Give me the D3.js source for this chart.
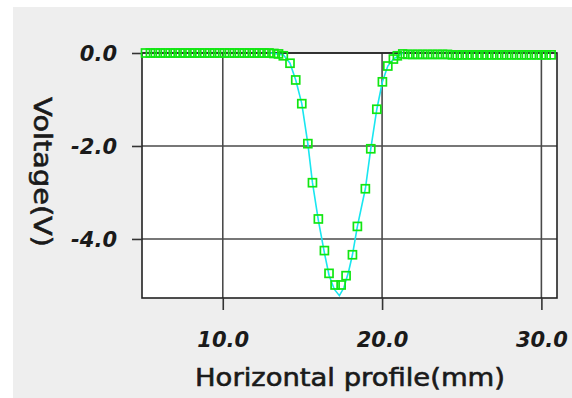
<!DOCTYPE html>
<html>
<head>
<meta charset="utf-8">
<script src="https://cdn.jsdelivr.net/npm/d3@7"></script>
<style>
  html, body { margin: 0; padding: 0; background: #ffffff; }
  svg { display: block; }
</style>
</head>
<body>
<svg id="chart" width="572" height="398"></svg>
<script>
// measured profile (mm, V)
const profileX = [
  5.15, 5.46, 5.77, 6.08, 6.39, 6.70, 7.01, 7.32, 7.63, 7.94, 8.25, 8.56, 8.87, 9.18,
  9.49, 9.80, 10.11, 10.42, 10.73, 11.04, 11.35, 11.66, 11.97, 12.28, 12.59, 12.90,
  13.21, 13.50, 13.80, 14.22, 14.58, 14.96, 15.34, 15.63, 16.00, 16.38, 16.67, 17.05,
  17.43, 17.74, 18.14, 18.45, 18.95, 19.29, 19.67, 20.02, 20.36, 20.71, 20.96, 21.30,
  21.62, 21.93, 22.24, 22.55, 22.86, 23.17, 23.48, 23.79, 24.10, 24.41, 24.72, 25.03,
  25.34, 25.65, 25.96, 26.27, 26.58, 26.89, 27.20, 27.51, 27.82, 28.13, 28.44, 28.75,
  29.06, 29.37, 29.68, 29.99, 30.30, 30.61
];
const profileV = [
  0, 0, 0, 0, 0, 0, 0, 0, 0, 0, 0, 0, 0, 0,
  0, 0, 0, 0, 0, 0, 0, 0, 0, 0, 0, 0,
  -0.01, -0.02, -0.06, -0.22, -0.58, -1.09, -1.95, -2.79, -3.57, -4.25, -4.74, -4.99,
  -4.99, -4.79, -4.34, -3.73, -2.92, -2.06, -1.21, -0.62, -0.28, -0.13, -0.06, -0.02,
  -0.03, -0.03, -0.03, -0.03, -0.03, -0.03, -0.03, -0.03, -0.03, -0.04, -0.04, -0.04,
  -0.04, -0.04, -0.04, -0.04, -0.04, -0.04, -0.04, -0.04, -0.04, -0.04, -0.04, -0.04,
  -0.04, -0.04, -0.04, -0.04, -0.04, -0.04
];
// fitted curve (cyan)
const fitX = [13.0, 13.8, 14.22, 14.58, 14.96, 15.34, 15.63, 16.0, 16.38, 16.67, 17.0, 17.32,
  17.6, 17.9, 18.14, 18.45, 18.95, 19.29, 19.67, 20.02, 20.36, 20.71, 21.3];
const fitV = [0, -0.04, -0.22, -0.58, -1.09, -1.95, -2.79, -3.6, -4.3, -4.78, -5.08, -5.22,
  -5.05, -4.7, -4.34, -3.73, -2.92, -2.06, -1.21, -0.62, -0.28, -0.13, 0];

const xTicks = [10, 20, 30];
const yTicks = [0, -2, -4];
const xTitle = "Horizontal profile(mm)";
const yTitle = "Voltage(V)";

const svg = d3.select('#chart');
const plot = { left: 142, top: 53, right: 557, bottom: 298 };

const xScale = d3.scaleLinear().domain([4.93, 30.98]).range([plot.left, plot.right]);
const yScale = d3.scaleLinear().domain([0, -5.27]).range([plot.top, plot.bottom]);

// grey panel
svg.append('rect')
  .attr('x', 13).attr('y', 7).attr('width', 572 - 13).attr('height', 398 - 7)
  .attr('fill', '#eeeeee');

// plot background
svg.append('rect')
  .attr('x', plot.left).attr('y', plot.top)
  .attr('width', plot.right - plot.left).attr('height', plot.bottom - plot.top)
  .attr('fill', '#ffffff');

const fmt = d => d.toFixed(1);

// grid lines
svg.append('g')
  .selectAll('line.vg')
  .data(xTicks)
  .join('line')
  .attr('x1', d => xScale(d)).attr('x2', d => xScale(d))
  .attr('y1', plot.top).attr('y2', plot.bottom)
  .attr('stroke', '#4a4a4a').attr('stroke-width', 1.6);

svg.append('g')
  .selectAll('line.hg')
  .data(yTicks)
  .join('line')
  .attr('x1', plot.left).attr('x2', plot.right)
  .attr('y1', d => yScale(d)).attr('y2', d => yScale(d))
  .attr('stroke', '#4a4a4a').attr('stroke-width', 1.6);

// border
svg.append('rect')
  .attr('x', plot.left).attr('y', plot.top)
  .attr('width', plot.right - plot.left).attr('height', plot.bottom - plot.top)
  .attr('fill', 'none').attr('stroke', '#222').attr('stroke-width', 1.6);

// axes
const xAxis = svg.append('g')
  .attr('transform', `translate(0,${plot.bottom})`)
  .call(d3.axisBottom(xScale).tickValues(xTicks).tickFormat(fmt).tickSize(12).tickPadding(18));
const yAxis = svg.append('g')
  .attr('transform', `translate(${plot.left},0)`)
  .call(d3.axisLeft(yScale).tickValues(yTicks).tickFormat(fmt).tickSize(10).tickPadding(15));

[xAxis, yAxis].forEach(ax => {
  ax.select('.domain').remove();
  ax.selectAll('.tick line').attr('stroke', '#333').attr('stroke-width', 1.6);
  ax.selectAll('.tick text')
    .attr('font-family', 'DejaVu Sans, sans-serif')
    .attr('font-size', 21)
    .attr('font-weight', 'bold')
    .attr('font-style', 'italic')
    .attr('fill', '#1a1a1a');
});
xAxis.selectAll('.tick text').attr('dy', '0.9em');
yAxis.selectAll('.tick text').attr('dy', '0.38em');

// fitted line
const line = d3.line()
  .x(d => xScale(d[0]))
  .y(d => yScale(d[1]));

svg.append('path')
  .datum(d3.zip(fitX, fitV))
  .attr('d', line)
  .attr('fill', 'none')
  .attr('stroke', '#19e6f0')
  .attr('stroke-width', 1.6);

// measured markers
svg.append('g')
  .selectAll('rect')
  .data(d3.zip(profileX, profileV))
  .join('rect')
  .attr('x', d => xScale(d[0]) - 4)
  .attr('y', d => yScale(d[1]) - 4)
  .attr('width', 8).attr('height', 8)
  .attr('fill', 'none')
  .attr('stroke', '#11e611')
  .attr('stroke-width', 1.7);

// titles
svg.append('text')
  .attr('x', 195).attr('y', 386)
  .attr('textLength', 310).attr('lengthAdjust', 'spacingAndGlyphs')
  .attr('font-family', 'DejaVu Sans, sans-serif')
  .attr('font-size', 24)
  .attr('fill', '#1a1a1a')
  .attr('stroke', '#1a1a1a').attr('stroke-width', 0.6)
  .text(xTitle);

svg.append('text')
  .attr('transform', 'translate(34,97) rotate(90)')
  .attr('textLength', 150).attr('lengthAdjust', 'spacingAndGlyphs')
  .attr('font-family', 'DejaVu Sans, sans-serif')
  .attr('font-size', 24)
  .attr('fill', '#1a1a1a')
  .attr('stroke', '#1a1a1a').attr('stroke-width', 0.6)
  .text(yTitle);
</script>
</body>
</html>
